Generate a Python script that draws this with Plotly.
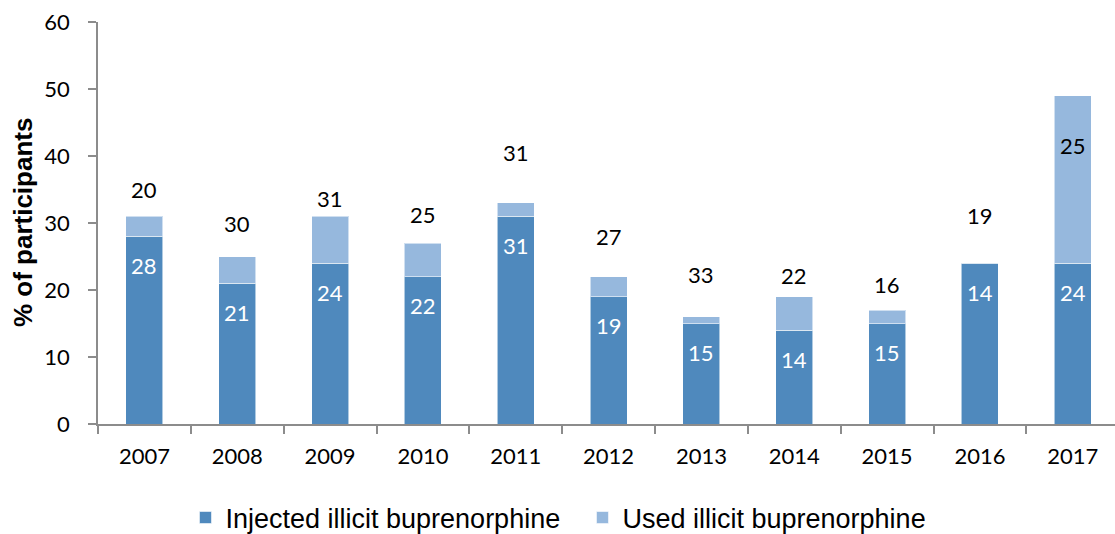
import plotly.graph_objects as go

years = ["2007", "2008", "2009", "2010", "2011", "2012", "2013", "2014", "2015", "2016", "2017"]
injected = [28, 21, 24, 22, 31, 19, 15, 14, 15, 24, 24]
used_extra = [3, 4, 7, 5, 2, 3, 1, 5, 2, 0, 25]
injected_labels = ["28", "21", "24", "22", "31", "19", "15", "14", "15", "14", "24"]
used_labels = ["20", "30", "31", "25", "31", "27", "33", "22", "16", "19", "25"]
used_label_y = [35.0, 29.9, 33.7, 31.2, 40.5, 28.0, 22.3, 22.1, 20.8, 31.1, 41.5]

DARK = "#4F89BD"
LIGHT = "#96B8DD"
AXIS = "#8C8C8C"
NUMFONT = "Lato, Carlito, Calibri, sans-serif"

fig = go.Figure()
fig.add_trace(go.Bar(
    x=years, y=injected, name="Injected illicit buprenorphine",
    marker=dict(color=DARK, line=dict(color="rgba(255,255,255,0.55)", width=1)),
    width=0.4, hoverinfo="skip",
))
fig.add_trace(go.Bar(
    x=years, y=used_extra, name="Used illicit buprenorphine",
    marker=dict(color=LIGHT, line=dict(color="rgba(255,255,255,0.55)", width=1)),
    width=0.4, hoverinfo="skip",
))

annotations = []
for i, (v, t) in enumerate(zip(injected, injected_labels)):
    annotations.append(dict(x=i, y=v, xref="x", yref="y", text=t, showarrow=False,
                            yanchor="middle", yshift=-29,
                            font=dict(family=NUMFONT, size=22, color="white")))
for i, (v, t) in enumerate(zip(used_label_y, used_labels)):
    annotations.append(dict(x=i, y=v, xref="x", yref="y", text=t, showarrow=False,
                            yanchor="middle",
                            font=dict(family=NUMFONT, size=22, color="black")))
annotations.append(dict(x=-0.0737, y=0.5, xref="paper", yref="paper",
                        text="<b>% of participants</b>", textangle=-90, showarrow=False,
                        xanchor="center", yanchor="middle",
                        font=dict(family="Liberation Sans, Arial, sans-serif", size=26, color="black")))

fig.update_layout(
    width=1115, height=534,
    margin=dict(l=98, r=0, t=22, b=110, pad=0, autoexpand=False),
    barmode="stack",
    plot_bgcolor="white", paper_bgcolor="white",
    showlegend=True,
    legend=dict(orientation="h", xref="container", yref="container",
                x=0.5224, xanchor="center", y=0.03, yanchor="middle",
                entrywidth=352, entrywidthmode="pixels",
                font=dict(family="Liberation Sans, Arial, sans-serif", size=27, color="black"),
                traceorder="normal"),
    annotations=annotations,
    xaxis=dict(type="category", range=[-0.5, 10.455], showline=True, linecolor=AXIS, linewidth=1.5,
               ticks="outside", tickson="boundaries", ticklen=8, tickcolor=AXIS, tickwidth=1.5,
               showgrid=False, zeroline=False, ticklabelstandoff=12,
               tickfont=dict(family=NUMFONT, size=22, color="black")),
    yaxis=dict(range=[0, 60], dtick=10, showline=True, linecolor=AXIS, linewidth=1.5,
               ticks="outside", ticklen=8, tickcolor=AXIS, tickwidth=1.5,
               showgrid=False, zeroline=False, ticklabelstandoff=14,
               tickfont=dict(family=NUMFONT, size=22, color="black")),
)

fig.write_html("out.html", config={"displayModeBar": False},
               post_script="document.body.style.margin='0';")
